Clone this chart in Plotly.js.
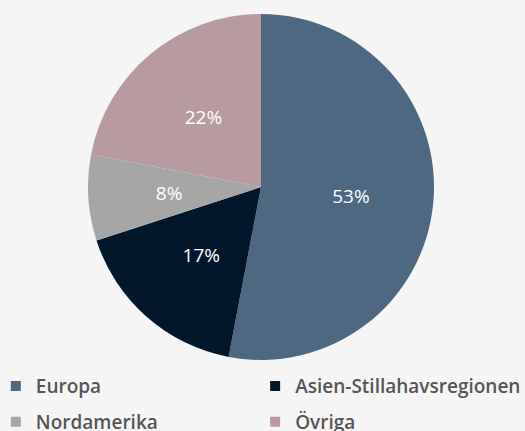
<!DOCTYPE html>
<html><head><meta charset="utf-8">
<script src="https://cdn.plot.ly/plotly-3.0.1.min.js"></script>
<style>html,body{margin:0;padding:0;background:#f5f5f5;}#chart{width:525px;height:431px;}</style>
</head><body><div id="chart"></div>
<script>
const categories = ["Europa", "Asien-Stillahavsregionen", "Nordamerika", "Övriga"];
const values = [53, 17, 8, 22];
const colors = ["#4e6881", "#03172b", "#a6a6a6", "#b89ba0"];
// legend column for each category (left column = legend, right column = legend2)
const legendColumn = ["legend", "legend2", "legend", "legend2"];

const traces = [
  // filled pie
  {
    type: "pie",
    labels: categories,
    values: values,
    sort: false,
    direction: "clockwise",
    rotation: 0,
    marker: {colors: colors, line: {width: 0}},
    textinfo: "none",
    hoverinfo: "none",
    showlegend: false,
    domain: {x: [0.1676, 0.8267], y: [0.1647, 0.9675]}
  },
  // transparent ring used only to place the percentage labels nearer the centre
  {
    type: "pie",
    labels: categories,
    values: values,
    sort: false,
    direction: "clockwise",
    rotation: 0,
    hole: 0.57,
    marker: {colors: categories.map(() => "rgba(0,0,0,0)"), line: {width: 0}},
    textinfo: "percent",
    texttemplate: "%{percent:.0%}",
    textposition: "inside",
    insidetextorientation: "horizontal",
    textfont: {color: "#ffffff", size: 19, family: "Open Sans, sans-serif", weight: 500},
    hoverinfo: "none",
    showlegend: false,
    domain: {x: [0.2781, 0.7162], y: [0.2993, 0.8329]}
  }
];

categories.forEach((c, i) => {
  traces.push({
    type: "scatter",
    mode: "markers",
    x: [null], y: [null],
    name: c,
    legend: legendColumn[i],
    legendgroup: "g" + i,
    showlegend: true,
    marker: {symbol: "square", size: 10, color: colors[i]},
    hoverinfo: "none"
  });
});

const legendCommon = {
  orientation: "v",
  yanchor: "top",
  xanchor: "left",
  itemwidth: 30,
  tracegroupgap: 8,
  font: {size: 19, color: "#555555", family: "Open Sans, sans-serif", weight: 600},
  bgcolor: "rgba(0,0,0,0)",
  traceorder: "grouped"
};

const layout = {
  width: 525, height: 431,
  margin: {l: 0, r: 0, t: 0, b: 0, autoexpand: false},
  paper_bgcolor: "#f5f5f5",
  plot_bgcolor: "rgba(0,0,0,0)",
  showlegend: true,
  xaxis: {visible: false},
  yaxis: {visible: false},
  legend: Object.assign({}, legendCommon, {x: -0.008, y: 0.148}),
  legend2: Object.assign({}, legendCommon, {x: 0.486, y: 0.148})
};
Plotly.newPlot("chart", traces, layout, {displayModeBar: false, staticPlot: true});
</script></body></html>
